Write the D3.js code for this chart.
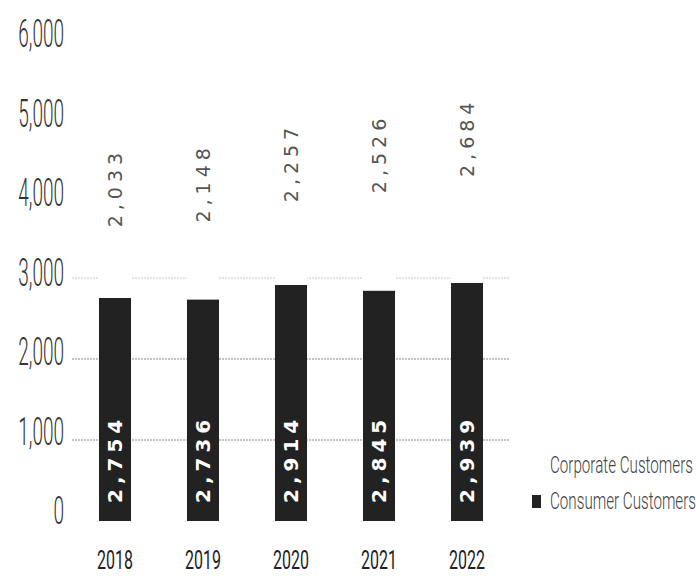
<!DOCTYPE html>
<html><head><meta charset="utf-8">
<script src="https://cdn.jsdelivr.net/npm/d3@7"></script>
<style>body{margin:0;background:#fff}</style>
</head><body><svg id="c" width="696" height="576"></svg>
<script>
const years = ["2018","2019","2020","2021","2022"];
const consumer = [2754, 2736, 2914, 2845, 2939];
const corporate = [2033, 2148, 2257, 2526, 2684];
const yTicks = [0, 1000, 2000, 3000, 4000, 5000, 6000];
const gridTicks = [1000, 2000, 3000];
const seriesNames = ["Corporate Customers", "Consumer Customers"];

const svg = d3.select("#c");
const x = d3.scaleBand().domain(years).range([71, 511]).paddingInner(0.636).paddingOuter(0.318);
const y = d3.scaleLinear().domain([0, 6000]).range([521, 35]);
const fmt = d3.format(",");

// gridlines
svg.append("g").selectAll("line").data(gridTicks).join("line")
  .attr("x1", 72).attr("x2", 510)
  .attr("y1", d => y(d)).attr("y2", d => y(d))
  .attr("stroke", d => d === 3000 ? "#c8c8c8" : "#8a8a8a")
  .attr("stroke-width", 1)
  .attr("stroke-dasharray", "2,1");

// consumer bars
svg.append("g").selectAll("rect").data(years).join("rect")
  .attr("x", d => x(d)).attr("width", x.bandwidth())
  .attr("y", (d, i) => y(consumer[i]))
  .attr("height", (d, i) => y(0) - y(consumer[i]))
  .attr("fill", "#222");

// corporate bars (white, stacked)
svg.append("g").selectAll("rect").data(years).join("rect")
  .attr("x", d => x(d)).attr("width", x.bandwidth())
  .attr("y", (d, i) => y(consumer[i] + corporate[i]))
  .attr("height", (d, i) => y(consumer[i]) - y(consumer[i] + corporate[i]))
  .attr("fill", "#fff");

// consumer labels
svg.append("g").selectAll("text").data(years).join("text")
  .attr("transform", (d, i) => `translate(${x(d) + x.bandwidth()/2 + 7},${y(0) - 18}) rotate(-90)`)
  .attr("text-anchor", "start")
  .attr("fill", "#fff")
  .style("font", "bold 20px 'DejaVu Sans'")
  .style("letter-spacing", "5px")
  .text((d, i) => fmt(consumer[i]));

// corporate labels
svg.append("g").selectAll("text").data(years).join("text")
  .attr("transform", (d, i) => `translate(${x(d) + x.bandwidth()/2 + 7},${y(consumer[i] + corporate[i] * 0.67)}) rotate(-90)`)
  .attr("text-anchor", "middle")
  .attr("fill", "#555")
  .style("font", "19px 'DejaVu Sans'")
  .style("letter-spacing", "5px")
  .text((d, i) => fmt(corporate[i]));

// y axis labels
svg.append("g").selectAll("text").data(yTicks).join("text")
  .attr("transform", d => `translate(64,${y(d) + 12 - (6000 - d) / 1000 * 1.5}) scale(0.5,1)`)
  .attr("text-anchor", "end")
  .attr("fill", "#333")
  .style("font", "300 38px Roboto")
  .text(d => fmt(d));

// x axis labels
svg.append("g").selectAll("text").data(years).join("text")
  .attr("transform", d => `translate(${x(d) + x.bandwidth()/2},569) scale(0.64,1)`)
  .attr("text-anchor", "middle")
  .attr("fill", "#222")
  .style("font", "400 25px Roboto")
  .text(d => d);

// legend
const lg = svg.append("g");
lg.selectAll("rect").data(seriesNames).join("rect")
  .attr("x", 532).attr("y", (d, i) => 459 + i * 36).attr("width", 9).attr("height", 13)
  .attr("fill", (d, i) => i === 0 ? "#fff" : "#222");
lg.selectAll("text").data(seriesNames).join("text")
  .attr("transform", (d, i) => `translate(550,${473 + i * 36}) scale(0.66,1)`)
  .attr("fill", "#444")
  .style("font", "300 23px Roboto")
  .text(d => d);
</script></body></html>
